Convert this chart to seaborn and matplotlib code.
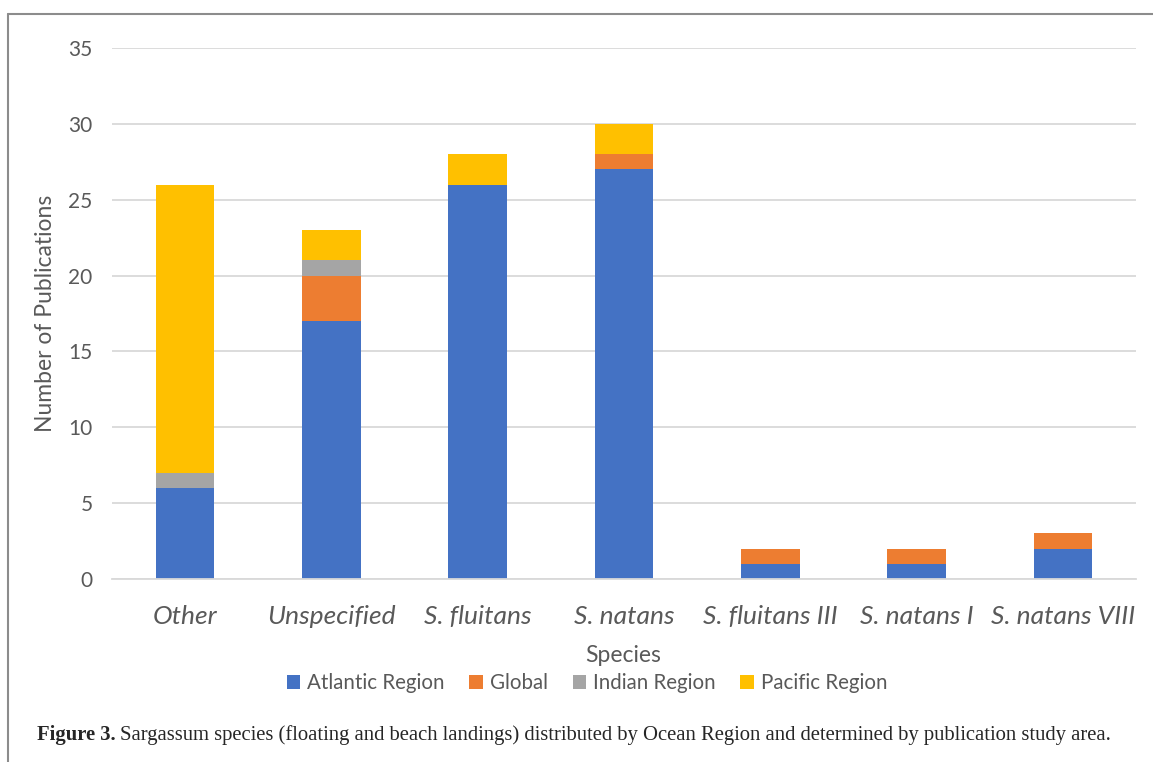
import matplotlib
matplotlib.use("Agg")
import matplotlib.pyplot as plt
import seaborn as sns
import numpy as np
from matplotlib.patches import Patch
from matplotlib.lines import Line2D

species = ["Other", "Unspecified", "S. fluitans", "S. natans",
           "S. fluitans III", "S. natans I", "S. natans VIII"]
regions = ["Atlantic Region", "Global", "Indian Region", "Pacific Region"]
atlantic = [6, 17, 26, 27, 1, 1, 2]
global_ = [0, 3, 0, 1, 1, 1, 1]
indian = [1, 1, 0, 0, 0, 0, 0]
pacific = [19, 2, 2, 2, 0, 0, 0]
yticks = [0, 5, 10, 15, 20, 25, 30, 35]

colors = ["#4472C4", "#ED7D31", "#A5A5A5", "#FFC000"]
series = [atlantic, global_, indian, pacific]
W, H = 1153, 762

sns.set_theme(style="white")
plt.rcParams["font.family"] = ["Lato", "DejaVu Sans"]

fig = plt.figure(figsize=(W / 100, H / 100), dpi=100)
ax = fig.add_axes([112 / W, 1 - 579 / H, 1024 / W, 531 / H])

bottom = np.zeros(len(species))
for vals, col in zip(series, colors):
    sns.barplot(x=species, y=vals, bottom=bottom, color=col, width=0.4,
                errorbar=None, linewidth=0, saturation=1, ax=ax)
    bottom += np.array(vals)

ax.set_ylim(0, 35)
ax.set_xlim(-0.5, 6.5)
ax.set_yticks(yticks)
ax.yaxis.grid(True, color="#d9d9d9", linewidth=1.3)
ax.set_axisbelow(True)
for s in ["top", "right", "left"]:
    ax.spines[s].set_visible(False)
ax.spines["bottom"].set_color("#d9d9d9")
ax.spines["bottom"].set_linewidth(1.3)
ax.tick_params(axis="y", labelsize=15, colors="#595959", length=0, pad=14)
ax.tick_params(axis="x", labelsize=19, colors="#595959", length=0, pad=18.5)
for lbl in ax.get_xticklabels():
    lbl.set_style("italic")

ax.set_ylabel("Number of Publications", fontsize=16.5, color="#595959", va="center")
ax.yaxis.set_label_coords((46 - 112) / 1024, 0.5)
ax.set_xlabel("Species", fontsize=16.5, color="#595959", va="center")
ax.xaxis.set_label_coords((623 - 112) / 1024, -(655 - 579) / 531)

handles = [Patch(facecolor=c, edgecolor="none") for c in colors]
fig.legend(handles, regions, loc="center", bbox_to_anchor=(587 / W, 1 - 683 / H),
           ncol=4, frameon=False, fontsize=14.8, handlelength=0.65, handleheight=0.65,
           handletextpad=0.35, columnspacing=1.2, labelcolor="#595959")

t1 = fig.text(37 / W, 1 - 735 / H, "Figure 3.", fontsize=14.9, fontweight="bold",
              family="Liberation Serif", va="center", ha="left")
fig.canvas.draw()
bb = t1.get_window_extent()
fig.text(bb.x1 / W + 4 / W, 1 - 735 / H,
         "Sargassum species (floating and beach landings) distributed by Ocean Region and determined by publication study area.",
         fontsize=14.9, family="Liberation Serif", va="center", ha="left")

fig.add_artist(Line2D([8 / W, 1], [1 - 14 / H, 1 - 14 / H], color="#8c8c8c", linewidth=1.5))
fig.add_artist(Line2D([8 / W, 8 / W], [1 - 14 / H, 0], color="#8c8c8c", linewidth=1.5))

fig.savefig("out.png", dpi=100)
